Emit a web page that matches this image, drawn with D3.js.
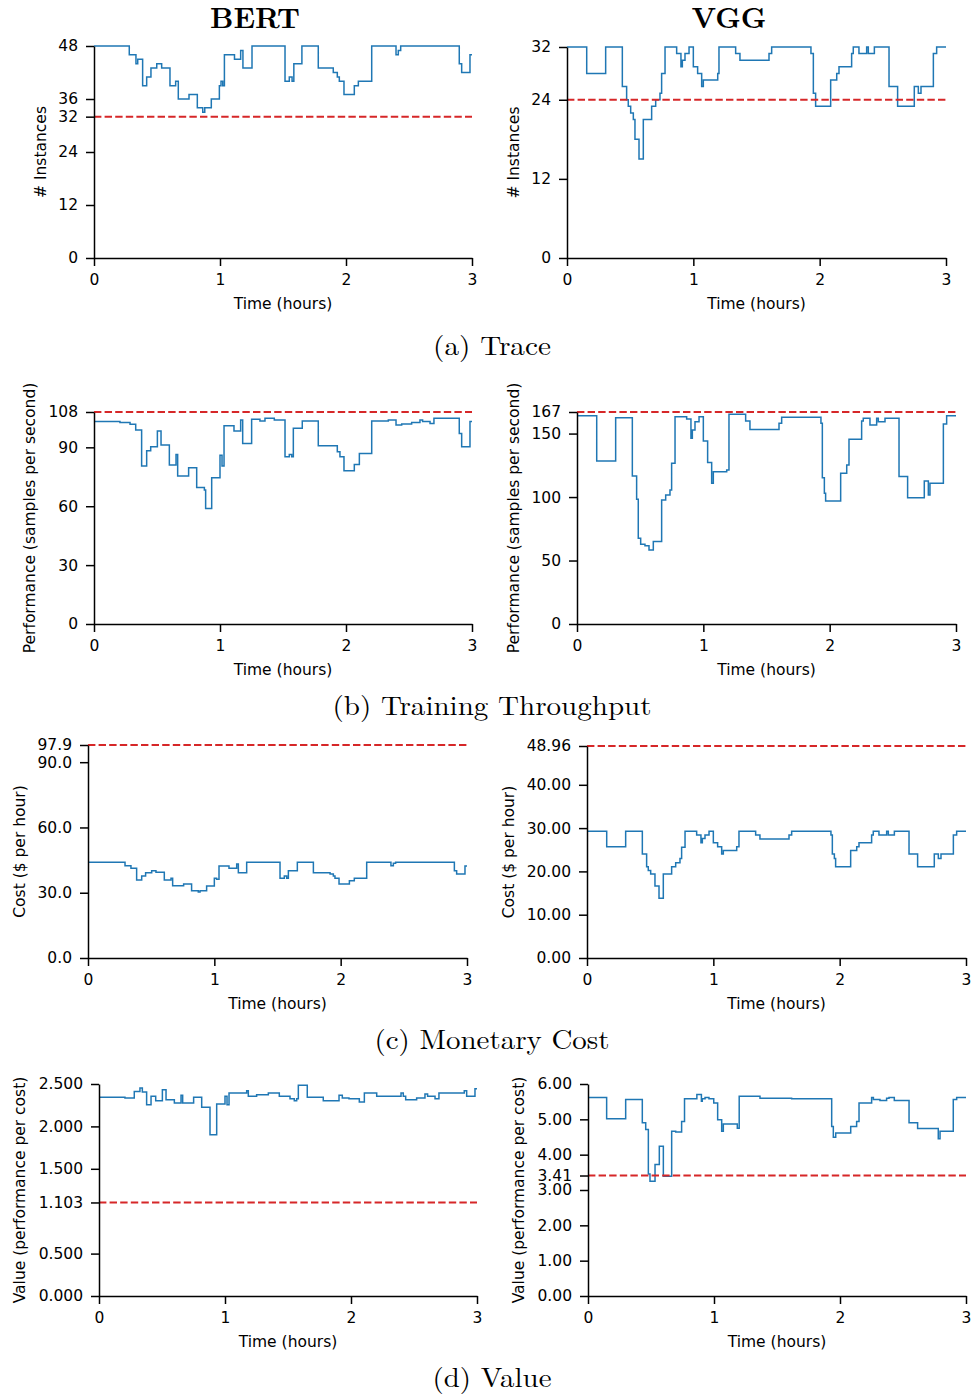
<!DOCTYPE html>
<html>
<head>
<meta charset="utf-8">
<script src="https://cdn.jsdelivr.net/npm/d3@7"></script>
<style>
  body { margin: 0; background: #fff; }
</style>
</head>
<body>
<div id="chart"></div>
<script>
// step traces, [time in hours, value]
const bertTrace = [[0,48],[0.28,46],[0.333,44],[0.347,45],[0.386,39],[0.418,41],[0.452,43],[0.498,44],[0.537,43],
  [0.603,39],[0.648,40],[0.669,36],[0.754,37],[0.82,34],[0.863,33],[0.879,34],[0.931,36],[0.995,39],[1.008,40],
  [1.022,39],[1.035,46],[1.115,45],[1.164,47],[1.182,43],[1.254,48],[1.516,40],[1.55,41],[1.572,40],[1.586,44],
  [1.65,48],[1.78,43],[1.899,42],[1.931,41],[1.947,40],[1.984,37],[2.066,39],[2.098,40],[2.204,48],[2.397,46],
  [2.415,47],[2.434,48],[2.899,44],[2.918,42],[2.984,46],[3,46]]

const vggTrace = [[0,32],[0.156,28],[0.306,32],[0.438,26],[0.472,24],[0.485,23],[0.504,22],[0.525,21],[0.538,18],
  [0.57,15],[0.604,21],[0.67,23],[0.702,24],[0.736,25],[0.749,28],[0.776,32],[0.868,31],[0.902,29],[0.913,30],
  [0.934,31],[0.966,32],[1.0,29],[1.034,28],[1.066,26],[1.079,27],[1.193,28],[1.203,32],[1.335,31],[1.369,30],
  [1.599,31],[1.62,32],[1.931,31],[1.95,25],[1.968,23],[2.087,27],[2.135,28],[2.153,29],[2.253,31],[2.266,32],
  [2.311,31],[2.372,32],[2.385,31],[2.433,32],[2.549,26],[2.617,23],[2.749,26],[2.781,25],[2.802,26],[2.9,31],
  [2.926,32],[3,32]]

const bertThroughput = [[0,103.1],[0.206,102.7],[0.286,101.7],[0.331,98.8],[0.378,80.5],[0.418,88.3],[0.45,90.3],
  [0.503,98.3],[0.532,91.2],[0.598,81],[0.651,86.4],[0.664,75.4],[0.751,79.6],[0.815,69.5],[0.876,68.3],[0.886,58.9],
  [0.934,74.5],[1.0,86],[1.016,80.5],[1.032,101],[1.111,98.3],[1.164,103.9],[1.18,92],[1.251,104.3],[1.317,103.4],
  [1.357,104.8],[1.431,103.9],[1.516,85.2],[1.55,86.4],[1.569,85.2],[1.582,99.7],[1.653,103.4],[1.78,90.8],
  [1.931,87.8],[1.952,85.2],[1.984,78.1],[2.066,81.3],[2.106,86.9],[2.204,103.4],[2.336,103.9],[2.397,101.4],
  [2.442,101.9],[2.521,102.7],[2.587,103.9],[2.608,103.1],[2.667,102.2],[2.698,104.8],[2.899,97.1],[2.918,90.3],
  [2.984,103.1],[3,103.1]]

const vggThroughput = [[0,164.1],[0.156,128.4],[0.306,162.5],[0.438,116.6],[0.472,98.2],[0.485,67.5],[0.504,62.8],
  [0.538,61.7],[0.57,58.3],[0.604,64.9],[0.67,97.7],[0.702,101.6],[0.736,105.6],[0.749,126.6],[0.776,163.3],
  [0.868,161.5],[0.902,146.3],[0.913,152.8],[0.934,159.4],[0.966,163.3],[1.0,144.2],[1.034,127.3],[1.066,110.8],
  [1.079,120],[1.185,121.3],[1.203,165.2],[1.335,159.9],[1.369,153.3],[1.599,158.1],[1.62,162.8],[1.931,158.1],
  [1.942,115.3],[1.958,102.9],[1.968,96.9],[2.087,118.7],[2.135,125.2],[2.153,145.5],[2.253,159.9],[2.266,162],
  [2.319,156.8],[2.372,162],[2.385,159.4],[2.438,162],[2.549,116.1],[2.617,99.5],[2.749,112.6],[2.781,101.6],
  [2.794,110.8],[2.9,157.5],[2.926,164.1],[3,164.1]]

const bertCost = [[0,44.0],[0.293,42.4],[0.34,41.2],[0.385,35.9],[0.425,37.7],[0.456,39.2],[0.504,40.1],[0.538,39.4],
  [0.604,35.9],[0.657,36.6],[0.67,33.2],[0.757,34.0],[0.82,30.9],[0.873,30.3],[0.887,30.9],[0.939,33.1],[1.0,36.6],
  [1.018,36.2],[1.037,42.3],[1.116,41.2],[1.177,43.2],[1.19,39.2],[1.256,44],[1.52,36.6],[1.554,37.7],[1.573,36.6],
  [1.586,40.1],[1.657,44],[1.784,39.2],[1.916,38.6],[1.942,37.7],[1.955,36.6],[1.987,34.0],[2.069,35.5],[2.108,36.6],
  [2.206,44],[2.398,42.4],[2.417,43.5],[2.435,44],[2.9,40.1],[2.918,38.6],[2.984,42.3],[3,42.3]]

const vggCost = [[0,29.3],[0.156,25.7],[0.306,29.3],[0.438,24.0],[0.472,21.1],[0.485,20.2],[0.504,19.4],[0.538,16.6],
  [0.57,13.8],[0.604,19.4],[0.67,21.1],[0.702,22.0],[0.736,23.0],[0.749,25.6],[0.776,29.3],[0.868,28.4],[0.902,26.6],
  [0.913,27.6],[0.934,28.4],[0.966,29.3],[1.0,26.6],[1.034,25.7],[1.066,24.0],[1.079,24.8],[1.185,25.7],[1.203,29.3],
  [1.335,28.4],[1.369,27.5],[1.599,28.4],[1.62,29.3],[1.931,28.4],[1.942,24.0],[1.958,23.0],[1.968,21.1],[2.087,24.8],
  [2.135,25.7],[2.153,26.6],[2.253,28.4],[2.266,29.3],[2.311,28.4],[2.372,29.3],[2.385,28.4],[2.433,29.3],[2.549,24.0],
  [2.617,21.1],[2.749,24.0],[2.781,23.0],[2.802,24.0],[2.9,28.4],[2.926,29.3],[3,29.3]]

const bertValue = [[0,2.343],[0.206,2.335],[0.28,2.413],[0.325,2.453],[0.344,2.406],[0.378,2.256],[0.413,2.355],
  [0.45,2.303],[0.503,2.433],[0.532,2.315],[0.598,2.276],[0.651,2.366],[0.664,2.276],[0.751,2.343],[0.815,2.225],
  [0.881,1.903],[0.934,2.264],[1.0,2.355],[1.016,2.256],[1.032,2.394],[1.172,2.421],[1.185,2.355],[1.251,2.374],
  [1.344,2.394],[1.431,2.355],[1.516,2.327],[1.55,2.303],[1.569,2.327],[1.582,2.484],[1.653,2.343],[1.78,2.303],
  [1.905,2.366],[1.931,2.335],[1.984,2.327],[2.066,2.288],[2.106,2.394],[2.204,2.355],[2.397,2.394],[2.415,2.355],
  [2.434,2.315],[2.521,2.335],[2.587,2.382],[2.608,2.355],[2.667,2.327],[2.698,2.394],[2.899,2.421],[2.918,2.355],
  [2.984,2.445],[3,2.445]]

const vggValue = [[0,5.62],[0.148,5.02],[0.299,5.56],[0.431,4.90],[0.458,4.71],[0.479,3.45],[0.492,3.25],[0.532,3.72],
  [0.566,4.24],[0.598,3.39],[0.664,4.66],[0.696,4.64],[0.743,4.94],[0.766,5.58],[0.864,5.70],[0.9,5.51],[0.907,5.58],
  [0.929,5.62],[0.96,5.58],[0.998,5.46],[1.029,4.99],[1.061,4.66],[1.074,4.87],[1.185,4.75],[1.2,5.65],[1.365,5.60],
  [1.616,5.58],[1.934,4.80],[1.947,4.49],[1.966,4.61],[2.085,4.80],[2.132,4.94],[2.151,5.46],[2.251,5.62],[2.265,5.56],
  [2.317,5.53],[2.37,5.60],[2.389,5.62],[2.431,5.53],[2.548,4.90],[2.616,4.74],[2.78,4.45],[2.794,4.66],[2.899,5.56],
  [2.926,5.62],[3,5.62]]

// dashed reference levels
const bertTraceRef = 32, vggTraceRef = 24
const bertThroughputRef = 108, vggThroughputRef = 167
const bertCostRef = 97.9, vggCostRef = 48.96
const bertValueRef = 1.103, vggValueRef = 3.41

// tick values
const xTicks = [0, 1, 2, 3]
const bertTraceTicks = [0, 12, 24, 32, 36, 48]
const vggTraceTicks = [0, 12, 24, 32]
const bertThroughputTicks = [0, 30, 60, 90, 108]
const vggThroughputTicks = [0, 50, 100, 150, 167]
const bertCostTicks = [0, 30, 60, 90, 97.9]
const vggCostTicks = [0, 10, 20, 30, 40, 48.96]
const bertValueTicks = [0, 0.5, 1.103, 1.5, 2, 2.5]
const vggValueTicks = [0, 1, 2, 3, 3.41, 4, 5, 6]

const models = ["BERT", "VGG"]
const captions = ["(a) Trace", "(b) Training Throughput", "(c) Monetary Cost", "(d) Value"]
const yLabels = ["# Instances", "Performance (samples per second)", "Cost ($ per hour)", "Value (performance per cost)"]

const blue = "#1f77b4", red = "#d62728"
const tickFont = 15.5
const serif = "'Latin Modern Roman', 'CMU Serif', 'Liberation Serif', 'DejaVu Serif', serif"

const svg = d3.select("#chart").append("svg")
  .attr("width", 972).attr("height", 1397)
  .attr("font-family", "DejaVu Sans, sans-serif")

// layout: left, right, top, bottom, ylabel x
const panels = [
  {data: bertTrace, ref: bertTraceRef, ticks: bertTraceTicks, fmt: d3.format("d"), l: 94, r: 472, t: 46, b: 258, lx: 41, row: 0},
  {data: vggTrace, ref: vggTraceRef, ticks: vggTraceTicks, fmt: d3.format("d"), l: 567, r: 946, t: 47, b: 258, lx: 514, row: 0},
  {data: bertThroughput, ref: bertThroughputRef, ticks: bertThroughputTicks, fmt: d3.format("d"), l: 94, r: 472, t: 412, b: 624, lx: 30, row: 1},
  {data: vggThroughput, ref: vggThroughputRef, ticks: vggThroughputTicks, fmt: d3.format("d"), l: 577, r: 956, t: 412, b: 624, lx: 514, row: 1},
  {data: bertCost, ref: bertCostRef, ticks: bertCostTicks, fmt: d3.format(".1f"), l: 88, r: 467, t: 745, b: 958, lx: 20, row: 2},
  {data: vggCost, ref: vggCostRef, ticks: vggCostTicks, fmt: d3.format(".2f"), l: 587, r: 966, t: 746, b: 958, lx: 509, row: 2},
  {data: bertValue, ref: bertValueRef, ticks: bertValueTicks, fmt: d3.format(".3f"), l: 99, r: 477, t: 1084, b: 1296, lx: 20, row: 3},
  {data: vggValue, ref: vggValueRef, ticks: vggValueTicks, fmt: d3.format(".2f"), l: 588, r: 966, t: 1084, b: 1296, lx: 519, row: 3}
]

panels.forEach(p => {
  const x = d3.scaleLinear().domain([0, 3]).range([p.l, p.r])
  const y = d3.scaleLinear().domain([0, d3.max(p.ticks)]).range([p.b, p.t])

  const g = svg.append("g")

  g.append("path")
    .datum(p.data)
    .attr("fill", "none")
    .attr("stroke", blue)
    .attr("stroke-width", 1.5)
    .attr("d", d3.line().x(d => x(d[0])).y(d => y(d[1])).curve(d3.curveStepAfter))

  g.append("line")
    .attr("x1", x(0)).attr("x2", x(3))
    .attr("y1", y(p.ref)).attr("y2", y(p.ref))
    .attr("stroke", red)
    .attr("stroke-width", 2)
    .attr("stroke-dasharray", "7.4,3.2")

  const xAxis = g.append("g")
    .attr("transform", `translate(0,${p.b})`)
    .call(d3.axisBottom(x).tickValues(xTicks).tickFormat(d3.format("d"))
          .tickSize(8).tickSizeOuter(0).tickPadding(8))
  const yAxis = g.append("g")
    .attr("transform", `translate(${p.l},0)`)
    .call(d3.axisLeft(y).tickValues(p.ticks).tickFormat(p.fmt)
          .tickSize(8).tickSizeOuter(0).tickPadding(8))

  ;[xAxis, yAxis].forEach(a => {
    a.attr("font-family", "DejaVu Sans, sans-serif").attr("font-size", tickFont)
    a.selectAll("path, line").attr("stroke", "#000").attr("stroke-width", 1.5)
    a.selectAll("text").attr("fill", "#000")
  })

  g.append("text")
    .attr("x", (p.l + p.r) / 2).attr("y", p.b + 51)
    .attr("text-anchor", "middle")
    .attr("font-size", tickFont)
    .text("Time (hours)")

  const cy = (p.t + p.b) / 2
  g.append("text")
    .attr("transform", `translate(${p.lx},${cy}) rotate(-90)`)
    .attr("dy", "0.35em")
    .attr("text-anchor", "middle")
    .attr("font-size", tickFont)
    .text(yLabels[p.row])
})

// model titles
const titleX = [255, 729], titleW = [90, 75]
models.forEach((m, i) => {
  svg.append("text")
    .attr("x", titleX[i]).attr("y", 28)
    .attr("text-anchor", "middle")
    .attr("font-family", serif)
    .attr("font-weight", "bold")
    .attr("font-size", 29)
    .attr("textLength", titleW[i])
    .attr("lengthAdjust", "spacingAndGlyphs")
    .text(m)
})

// sub-captions
const captionY = [355, 715, 1049, 1387], captionW = [118, 319, 235, 119]
captions.forEach((c, i) => {
  svg.append("text")
    .attr("x", 492).attr("y", captionY[i])
    .attr("text-anchor", "middle")
    .attr("font-family", serif)
    .attr("font-size", 27)
    .attr("textLength", captionW[i])
    .attr("lengthAdjust", "spacingAndGlyphs")
    .text(c)
})
</script>
</body>
</html>
